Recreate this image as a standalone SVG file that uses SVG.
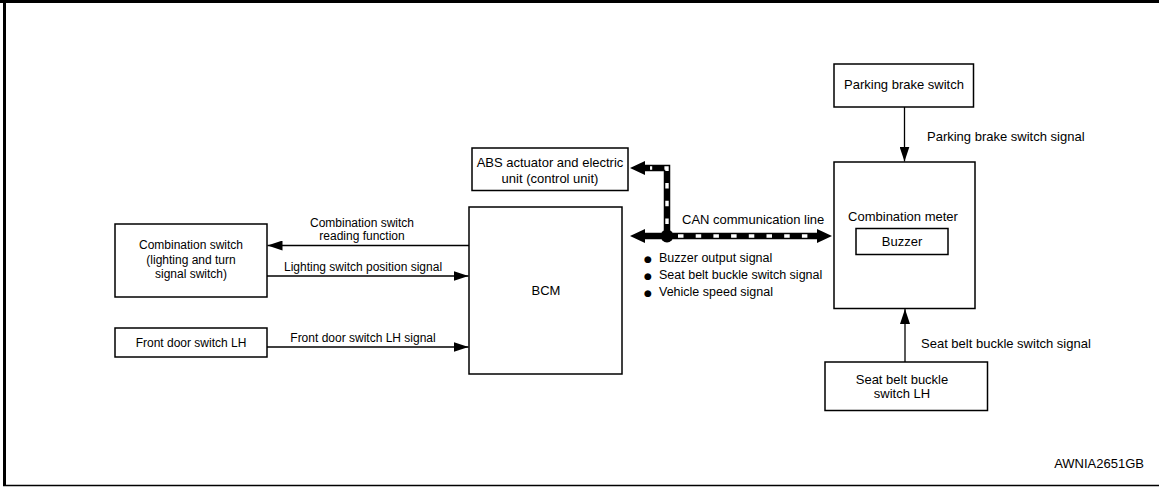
<svg xmlns="http://www.w3.org/2000/svg" width="1159" height="488" viewBox="0 0 1159 488">
<style>
  .box{fill:#fff;stroke:#000;stroke-width:1.5}
  .t12{font-family:"Liberation Sans",Arial,sans-serif;font-size:12px;fill:#000}
  .t13{font-family:"Liberation Sans",Arial,sans-serif;font-size:13px;fill:#000}
  .mid{text-anchor:middle}
  .thin{stroke:#000;stroke-width:1.3;fill:none}
  .can{stroke:#000;stroke-width:6.5;fill:none}
  .canw{stroke:#fff;stroke-width:3.4;fill:none;stroke-dasharray:5.5 12.2}
  .bul{font-family:"DejaVu Sans",sans-serif;font-size:9px}
</style>
<defs>
  <marker id="ah" markerUnits="userSpaceOnUse" markerWidth="16" markerHeight="10" refX="15" refY="5" orient="auto">
    <path d="M0,0 L15,5 L0,10 z" fill="#000"/>
  </marker>
  <marker id="bh" markerUnits="userSpaceOnUse" markerWidth="16" markerHeight="14" refX="0" refY="7" orient="auto">
    <path d="M0,0 L15,7 L0,14 z" fill="#000"/>
  </marker>
</defs>

<!-- frame -->
<rect x="0" y="0" width="1159" height="3" fill="#000"/>
<rect x="3" y="0" width="3" height="486" fill="#000"/>
<line x1="3" y1="485.5" x2="1159" y2="485.5" stroke="#000" stroke-width="1.5"/>

<g id="combination-switch">
  <rect class="box" x="115" y="224" width="152" height="73"/>
  <text class="t12 mid" x="191" y="249">Combination switch</text>
  <text class="t12 mid" x="191" y="263.5">(lighting and turn</text>
  <text class="t12 mid" x="191" y="278">signal switch)</text>
</g>
<g id="front-door-switch">
  <rect class="box" x="115" y="328" width="152" height="29"/>
  <text class="t12 mid" x="191" y="346.5">Front door switch LH</text>
</g>
<g id="abs">
  <rect class="box" x="472" y="148" width="156" height="42.5"/>
  <text class="t13 mid" x="550" y="167">ABS actuator and electric</text>
  <text class="t13 mid" x="550" y="183">unit (control unit)</text>
</g>
<g id="bcm">
  <rect class="box" x="469" y="207" width="153" height="167"/>
  <text class="t13 mid" x="546" y="295">BCM</text>
</g>
<g id="parking-brake-switch">
  <rect class="box" x="834" y="64" width="139.5" height="43"/>
  <text class="t13 mid" x="904" y="89">Parking brake switch</text>
</g>
<g id="combination-meter">
  <rect class="box" x="834" y="162" width="141" height="146.5"/>
  <text class="t13 mid" x="903" y="221">Combination meter</text>
  <g id="buzzer">
    <rect class="box" x="856" y="228.5" width="92" height="26"/>
    <text class="t13 mid" x="902" y="246">Buzzer</text>
  </g>
</g>
<g id="seat-belt-switch">
  <rect class="box" x="825" y="362" width="162.5" height="48.5"/>
  <text class="t13 mid" x="902" y="383.5">Seat belt buckle</text>
  <text class="t13 mid" x="902" y="398">switch LH</text>
</g>

<g id="connectors">
  <line class="thin" x1="469" y1="245.5" x2="267.5" y2="245.5" marker-end="url(#ah)"/>
  <line class="thin" x1="267" y1="276" x2="468.5" y2="276" marker-end="url(#ah)"/>
  <line class="thin" x1="267" y1="347" x2="468.5" y2="347" marker-end="url(#ah)"/>
  <line class="thin" x1="904.5" y1="107" x2="904.5" y2="161.5" marker-end="url(#ah)"/>
  <line class="thin" x1="905" y1="362" x2="905" y2="309" marker-end="url(#ah)"/>

  <!-- CAN line -->
  <path class="can" d="M667,236 L667,168 L645,168" marker-end="url(#bh)"/>
  <path class="canw" d="M667,224 L667,168 L650,168"/>
  <line class="can" x1="667" y1="236" x2="645" y2="236" marker-end="url(#bh)"/>
  <line class="can" x1="667" y1="236" x2="817" y2="236" marker-end="url(#bh)"/>
  <line class="canw" x1="678" y1="236" x2="815" y2="236"/>
  <circle cx="667" cy="236" r="6.5" fill="#000"/>

  <text class="t12 mid" x="362" y="227">Combination switch</text>
  <text class="t12 mid" x="362" y="240">reading function</text>
  <text class="t12 mid" x="363" y="271">Lighting switch position signal</text>
  <text class="t12 mid" x="363" y="341.5">Front door switch LH signal</text>
  <text class="t13" x="682" y="224">CAN communication line</text>
  <text class="t13" x="927" y="140.5">Parking brake switch signal</text>
  <text class="t13" x="921" y="347.5">Seat belt buckle switch signal</text>
  <text class="t12" x="644" y="262"><tspan class="bul" dy="-0.5">●</tspan><tspan x="659" dy="0.5" font-size="12.5">Buzzer output signal</tspan></text>
  <text class="t12" x="644" y="279"><tspan class="bul" dy="-0.5">●</tspan><tspan x="659" dy="0.5" font-size="12.5">Seat belt buckle switch signal</tspan></text>
  <text class="t12" x="644" y="296"><tspan class="bul" dy="-0.5">●</tspan><tspan x="659" dy="0.5" font-size="12.5">Vehicle speed signal</tspan></text>
</g>

<text class="t13" x="1144" y="467.5" text-anchor="end">AWNIA2651GB</text>
</svg>
